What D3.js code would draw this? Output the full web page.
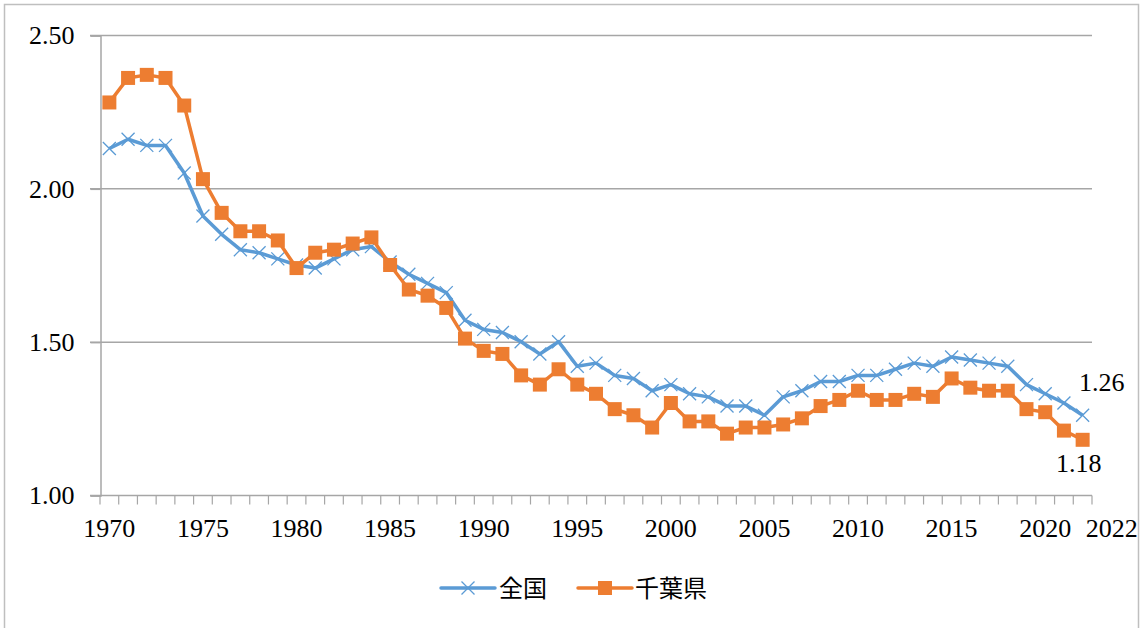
<!DOCTYPE html>
<html>
<head>
<meta charset="utf-8">
<script src="https://cdn.jsdelivr.net/npm/d3@7"></script>
<style>
  body { margin: 0; background: #fff; }
  svg { display: block; }
</style>
</head>
<body>
<svg id="chart" width="1145" height="628"></svg>
<script>
// 合計特殊出生率 1970-2022
var years = d3.range(1970, 2023);
var zenkoku = [2.13, 2.16, 2.14, 2.14, 2.05, 1.91, 1.85, 1.80, 1.79, 1.77,
               1.75, 1.74, 1.77, 1.80, 1.81, 1.76, 1.72, 1.69, 1.66, 1.57,
               1.54, 1.53, 1.50, 1.46, 1.50, 1.42, 1.43, 1.39, 1.38, 1.34,
               1.36, 1.33, 1.32, 1.29, 1.29, 1.26, 1.32, 1.34, 1.37, 1.37,
               1.39, 1.39, 1.41, 1.43, 1.42, 1.45, 1.44, 1.43, 1.42, 1.36,
               1.33, 1.30, 1.26];
var chiba = [2.28, 2.36, 2.37, 2.36, 2.27, 2.03, 1.92, 1.86, 1.86, 1.83,
             1.74, 1.79, 1.80, 1.82, 1.84, 1.75, 1.67, 1.65, 1.61, 1.51,
             1.47, 1.46, 1.39, 1.36, 1.41, 1.36, 1.33, 1.28, 1.26, 1.22,
             1.30, 1.24, 1.24, 1.20, 1.22, 1.22, 1.23, 1.25, 1.29, 1.31,
             1.34, 1.31, 1.31, 1.33, 1.32, 1.38, 1.35, 1.34, 1.34, 1.28,
             1.27, 1.21, 1.18];
var yTicks = [1.00, 1.50, 2.00, 2.50];
var xLabels = [1970, 1975, 1980, 1985, 1990, 1995, 2000, 2005, 2010, 2015, 2020, 2022];
var seriesNames = ["全国", "千葉県"];

var svg = d3.select("#chart");
var numFont = "'Liberation Serif', 'Times New Roman', serif";
var jpFont = "'Noto Sans CJK JP', sans-serif";
var blue = "#5b9bd5", orange = "#ed7d31", gridColor = "#a6a6a6";

// 外枠
svg.append("rect")
    .attr("x", 4.5).attr("y", 4.5)
    .attr("width", 1134).attr("height", 640)
    .attr("fill", "none")
    .attr("stroke", "#bfbfbf")
    .attr("stroke-width", 1.5);

var x = d3.scaleBand().domain(years).range([100, 1092]);
var y = d3.scaleLinear().domain([1, 2.5]).range([495, 35]);
var cx = function(yr) { return x(yr) + x.bandwidth() / 2; };

/* 目盛線 */
svg.append("g")
    .selectAll("line")
    .data(yTicks.filter(function(d) { return d > 1; }))
    .enter()
    .append("line")
    .attr("x1", 90).attr("x2", 1092)
    .attr("y1", function(d) { return y(d) + 0.5; })
    .attr("y2", function(d) { return y(d) + 0.5; })
    .attr("stroke", gridColor)
    .attr("stroke-width", 1.5);

/* Y軸 */
var yAxis = svg.append("g")
    .attr("transform", "translate(100.5,0.5)")
    .call(d3.axisLeft(y).tickValues(yTicks).tickSize(10).tickPadding(16)
        .tickFormat(d3.format(".2f")));
yAxis.select(".domain").attr("stroke", gridColor).attr("stroke-width", 1.5);
yAxis.selectAll(".tick line").attr("stroke", gridColor).attr("stroke-width", 1.5);
yAxis.selectAll("text")
    .attr("font-family", numFont)
    .attr("font-size", "26px")
    .attr("fill", "#000");

/* X軸：カテゴリ境界に目盛 */
var xAxisG = svg.append("g").attr("transform", "translate(0,495.5)");
xAxisG.append("line")
    .attr("x1", 90).attr("x2", 1092)
    .attr("stroke", gridColor).attr("stroke-width", 1.5);
xAxisG.selectAll("line.tk")
    .data(years.concat([2023]))
    .enter()
    .append("line")
    .attr("class", "tk")
    .attr("x1", function(d) { return d === 2023 ? 1092 : x(d); })
    .attr("x2", function(d) { return d === 2023 ? 1092 : x(d); })
    .attr("y1", 0).attr("y2", 9)
    .attr("stroke", gridColor).attr("stroke-width", 1.2);
xAxisG.selectAll("text")
    .data(xLabels)
    .enter()
    .append("text")
    .attr("x", function(d) { return d === 2022 ? cx(d) + 29 : cx(d); })
    .attr("y", 41)
    .attr("text-anchor", "middle")
    .attr("font-family", numFont)
    .attr("font-size", "26px")
    .text(function(d) { return d; });

/* 折れ線 */
var line = d3.line()
    .x(function(d, i) { return cx(years[i]); })
    .y(function(d) { return y(d); });

svg.append("path")
    .datum(zenkoku)
    .attr("d", line)
    .attr("fill", "none")
    .attr("stroke", blue)
    .attr("stroke-width", 3.5)
    .attr("stroke-linejoin", "round");

var cross = function(sel, s) {
    sel.append("path")
        .attr("d", "M" + (-s) + "," + (-s) + "L" + s + "," + s + "M" + (-s) + "," + s + "L" + s + "," + (-s))
        .attr("stroke", blue)
        .attr("stroke-width", 1.3)
        .attr("fill", "none");
};

svg.append("g")
    .selectAll("g")
    .data(zenkoku)
    .enter()
    .append("g")
    .attr("transform", function(d, i) { return "translate(" + cx(years[i]) + "," + y(d) + ")"; })
    .each(function() { cross(d3.select(this), 6.5); });

svg.append("path")
    .datum(chiba)
    .attr("d", line)
    .attr("fill", "none")
    .attr("stroke", orange)
    .attr("stroke-width", 3.5)
    .attr("stroke-linejoin", "round");

svg.append("g")
    .selectAll("rect")
    .data(chiba)
    .enter()
    .append("rect")
    .attr("x", function(d, i) { return cx(years[i]) - 7; })
    .attr("y", function(d) { return y(d) - 7; })
    .attr("width", 14).attr("height", 14)
    .attr("fill", orange);

/* データラベル */
var last = years.length - 1;
svg.append("text")
    .attr("x", cx(years[last]) + 19)
    .attr("y", y(zenkoku[last]) - 24)
    .attr("text-anchor", "middle")
    .attr("font-family", numFont)
    .attr("font-size", "26px")
    .text(d3.format(".2f")(zenkoku[last]));
svg.append("text")
    .attr("x", cx(years[last]) - 4)
    .attr("y", y(chiba[last]) + 32)
    .attr("text-anchor", "middle")
    .attr("font-family", numFont)
    .attr("font-size", "26px")
    .text(d3.format(".2f")(chiba[last]));

/* 凡例 */
var legend = svg.append("g").attr("transform", "translate(0,588)");
var lg1 = legend.append("g").attr("transform", "translate(441,0)");
lg1.append("line").attr("x1", 0).attr("x2", 54)
    .attr("stroke", blue).attr("stroke-width", 3.5).attr("stroke-linecap", "round");
lg1.append("g").attr("transform", "translate(27,0)").call(function(g) { cross(g, 6.5); });
lg1.append("text").attr("x", 58).attr("y", 9)
    .attr("font-family", jpFont).attr("font-size", "24px")
    .text(seriesNames[0]);

var lg2 = legend.append("g").attr("transform", "translate(578,0)");
lg2.append("line").attr("x1", 0).attr("x2", 54)
    .attr("stroke", orange).attr("stroke-width", 3.5).attr("stroke-linecap", "round");
lg2.append("rect").attr("x", 20).attr("y", -7).attr("width", 14).attr("height", 14)
    .attr("fill", orange);
lg2.append("text").attr("x", 57).attr("y", 9)
    .attr("font-family", jpFont).attr("font-size", "24px")
    .text(seriesNames[1]);
</script>
</body>
</html>
